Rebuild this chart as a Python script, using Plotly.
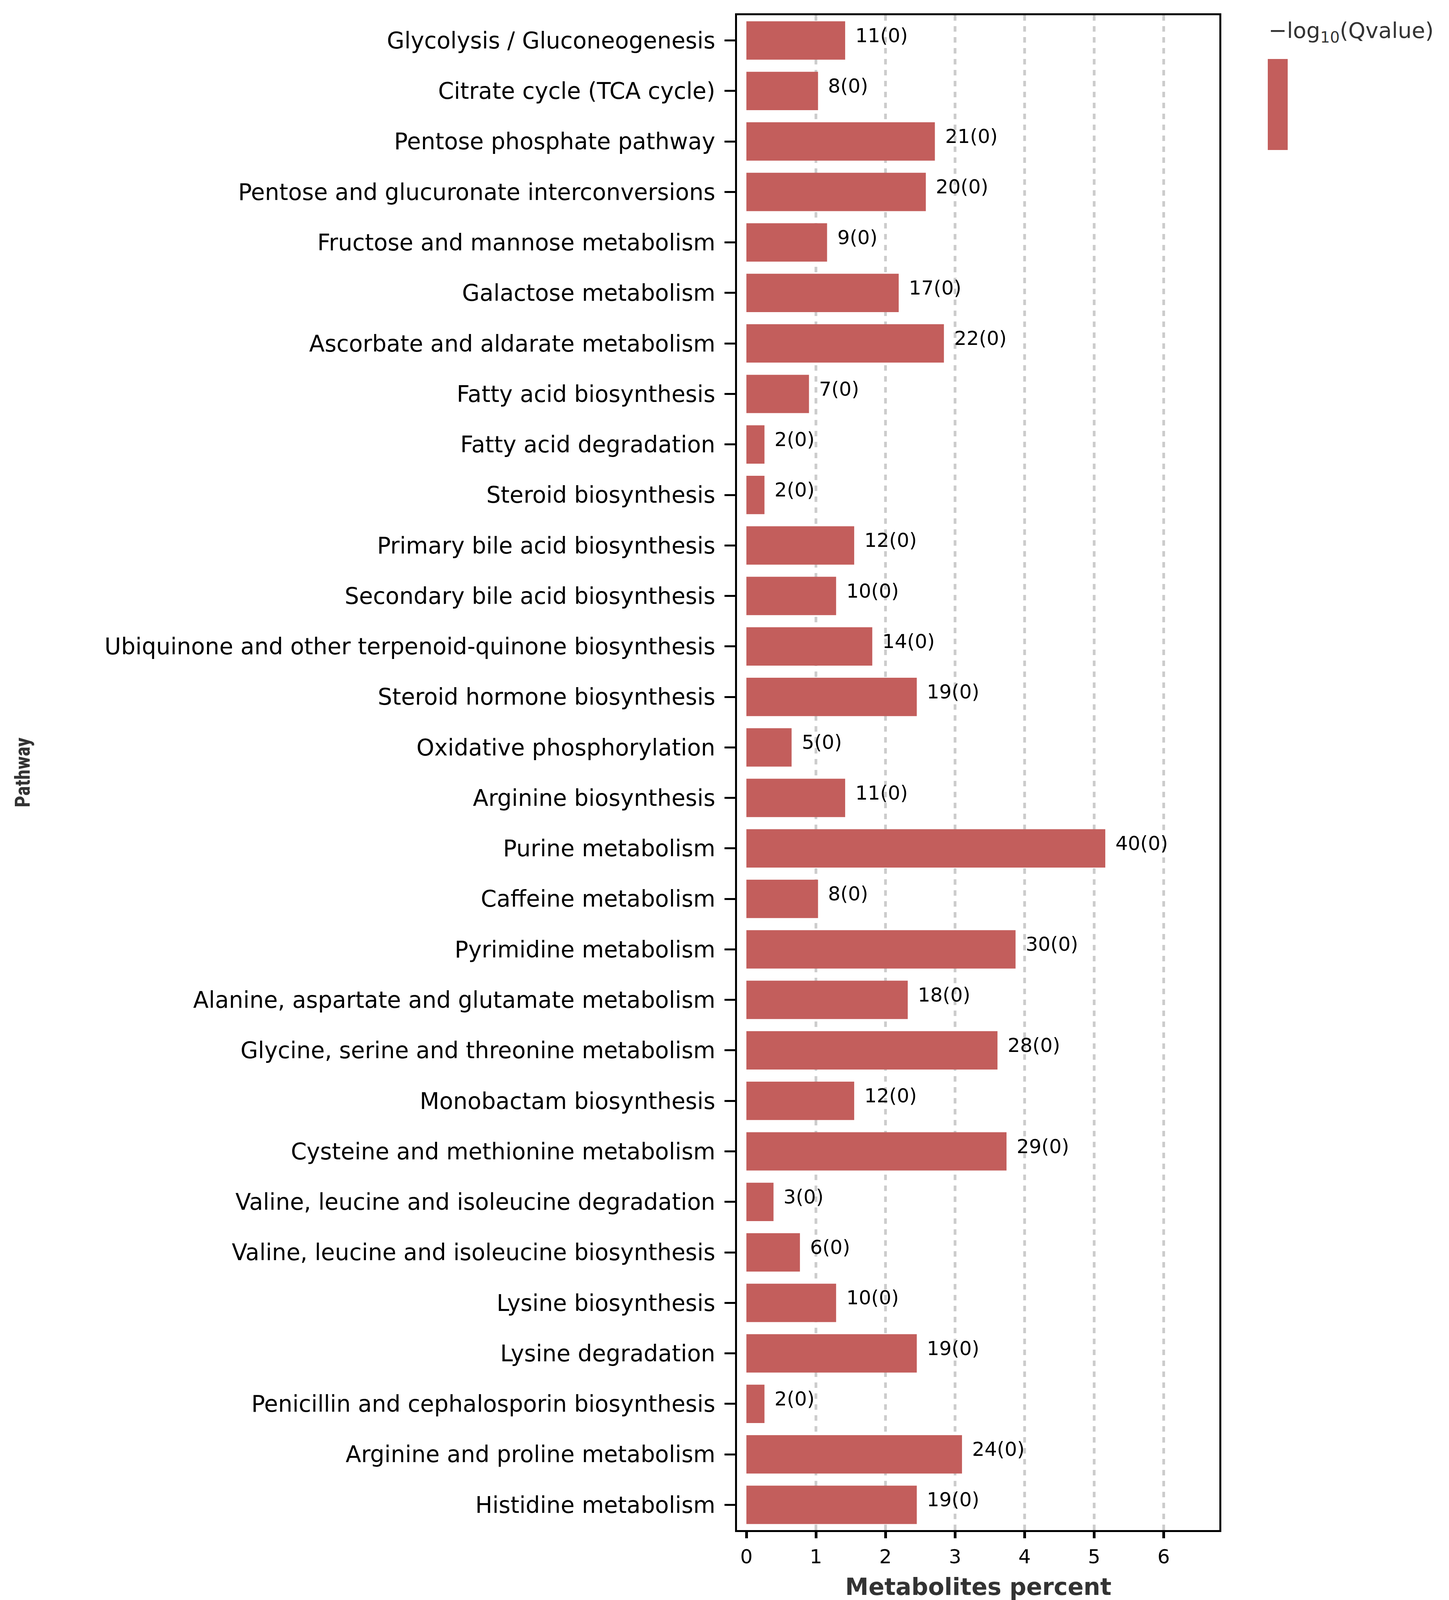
import plotly.graph_objects as go

# pathway names, top to bottom as drawn
pathways = [
    "Glycolysis / Gluconeogenesis",
    "Citrate cycle (TCA cycle)",
    "Pentose phosphate pathway",
    "Pentose and glucuronate interconversions",
    "Fructose and mannose metabolism",
    "Galactose metabolism",
    "Ascorbate and aldarate metabolism",
    "Fatty acid biosynthesis",
    "Fatty acid degradation",
    "Steroid biosynthesis",
    "Primary bile acid biosynthesis",
    "Secondary bile acid biosynthesis",
    "Ubiquinone and other terpenoid-quinone biosynthesis",
    "Steroid hormone biosynthesis",
    "Oxidative phosphorylation",
    "Arginine biosynthesis",
    "Purine metabolism",
    "Caffeine metabolism",
    "Pyrimidine metabolism",
    "Alanine, aspartate and glutamate metabolism",
    "Glycine, serine and threonine metabolism",
    "Monobactam biosynthesis",
    "Cysteine and methionine metabolism",
    "Valine, leucine and isoleucine degradation",
    "Valine, leucine and isoleucine biosynthesis",
    "Lysine biosynthesis",
    "Lysine degradation",
    "Penicillin and cephalosporin biosynthesis",
    "Arginine and proline metabolism",
    "Histidine metabolism",
]

# metabolites percent (bar length)
percent = [1.42, 1.03, 2.71, 2.58, 1.16, 2.19, 2.84, 0.90, 0.26, 0.26,
           1.55, 1.29, 1.81, 2.45, 0.65, 1.42, 5.16, 1.03, 3.87, 2.32,
           3.61, 1.55, 3.74, 0.39, 0.77, 1.29, 2.45, 0.26, 3.10, 2.45]

# metabolite counts shown next to the bars
counts = [11, 8, 21, 20, 9, 17, 22, 7, 2, 2,
          12, 10, 14, 19, 5, 11, 40, 8, 30, 18,
          28, 12, 29, 3, 6, 10, 19, 2, 24, 19]

# -log10(Qvalue), shown in brackets
neg_log10_q = [0, 0, 0, 0, 0, 0, 0, 0, 0, 0,
               0, 0, 0, 0, 0, 0, 0, 0, 0, 0,
               0, 0, 0, 0, 0, 0, 0, 0, 0, 0]

x_ticks = [0, 1, 2, 3, 4, 5, 6]
grid_vals = [1, 2, 3, 4, 5, 6]

BAR_COLOR = "#C35E5C"
# the browser viewport is 3710 x 4096, so the page is laid out to fill it
W, H = 3710, 4096
L, R, T, B = 1887, 588, 39, 179
PW = W - L - R
PH = H - T - B


def py(pix):
    # pixel row from the top of the page -> paper y
    return 1 - (pix - T) / PH


def px(pix):
    # pixel column from the left of the page -> paper x
    return (pix - L) / PW


fig = go.Figure()

fig.add_trace(go.Bar(
    x=percent,
    y=pathways,
    orientation="h",
    width=0.76,
    marker=dict(
        color=neg_log10_q,
        colorscale=[[0, BAR_COLOR], [1, BAR_COLOR]],
        cmin=0, cmax=1,
        line=dict(width=0),
        showscale=True,
        colorbar=dict(
            thickness=51,
            thicknessmode="pixels",
            len=233,
            lenmode="pixels",
            x=px(3246),
            xanchor="left",
            xpad=0,
            y=py(151),
            yanchor="top",
            ypad=0,
            outlinewidth=0,
            showticklabels=False,
            ticks="",
        ),
    ),
    hoverinfo="skip",
))

# dashed grid lines (none at 0)
for g in grid_vals:
    fig.add_shape(type="line", xref="x", yref="paper", x0=g, x1=g, y0=0, y1=1,
                  layer="below", line=dict(color="#CCCCCC", width=7, dash="14px,14px"))

annotations = []
for p, c, q, name in zip(percent, counts, neg_log10_q, pathways):
    annotations.append(dict(
        x=p, y=name, xref="x", yref="y",
        text=f"{c}({q})", showarrow=False,
        xanchor="left", yanchor="middle",
        xshift=24, yshift=13,
        font=dict(family="DejaVu Sans", size=50, color="black"),
    ))

annotations.append(dict(
    x=0.5, y=py(4062), xref="paper", yref="paper",
    text="Metabolites percent", showarrow=False,
    xanchor="center", yanchor="middle",
    font=dict(family="DejaVu Sans", size=60, color="#333333", weight="bold"),
))
annotations.append(dict(
    x=px(58), y=0.5, xref="paper", yref="paper",
    text="Pathway", showarrow=False, textangle=-90,
    xanchor="center", yanchor="middle",
    font=dict(family="Roboto Condensed, Liberation Sans Narrow, Liberation Sans", size=53,
              color="#333333", weight="bold"),
))
annotations.append(dict(
    x=px(3246), y=py(81), xref="paper", yref="paper",
    text="\u2212log<sub>10</sub>(Qvalue)", showarrow=False,
    xanchor="left", yanchor="middle",
    font=dict(family="DejaVu Sans", size=56, color="#333333"),
))

fig.update_layout(
    width=W, height=H,
    margin=dict(l=L, r=R, t=T, b=B, pad=0),
    paper_bgcolor="white",
    plot_bgcolor="white",
    showlegend=False,
    annotations=annotations,
    xaxis=dict(
        range=[-0.135, 6.80],
        tickvals=x_ticks,
        ticktext=[str(v) for v in x_ticks],
        showgrid=False,
        zeroline=False,
        showline=True, linecolor="black", linewidth=5, mirror=True,
        ticks="outside", ticklen=16, tickwidth=7, tickcolor="black",
        ticklabelstandoff=4,
        tickfont=dict(family="DejaVu Sans", size=50, color="black"),
    ),
    yaxis=dict(
        type="category",
        categoryorder="array",
        categoryarray=pathways,
        range=[len(pathways) - 0.5, -0.5],
        showgrid=False,
        zeroline=False,
        showline=True, linecolor="black", linewidth=5, mirror=True,
        ticks="outside", ticklen=27, tickwidth=5, tickcolor="black",
        ticklabelstandoff=12,
        tickfont=dict(family="DejaVu Sans", size=58, color="black"),
    ),
)

fig.write_html("out.html", config={"displayModeBar": False},
               post_script="document.body.style.margin='0px';")
